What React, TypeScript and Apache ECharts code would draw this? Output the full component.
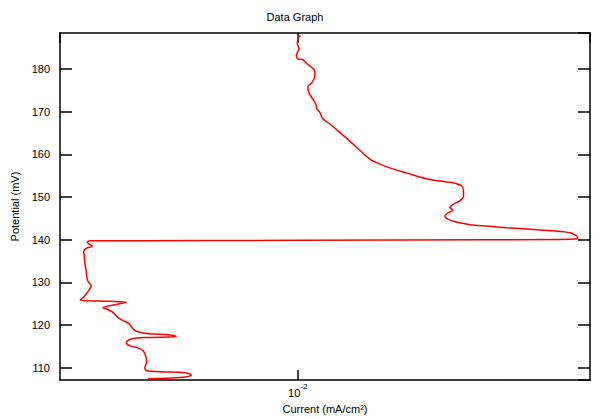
import React, { useEffect, useRef } from 'react';
import * as echarts from 'echarts';

const currentValues: number[] = [
  0.00418, 0.00475, 0.00518, 0.00538, 0.00518, 0.00448, 0.00415, 0.0041, 0.00414, 0.00413,
  0.00407, 0.00394, 0.00376, 0.00368, 0.00379, 0.00413, 0.00475, 0.00492, 0.00475, 0.00415,
  0.00389, 0.0038, 0.00375, 0.00361, 0.00351, 0.00341, 0.00331, 0.00321, 0.00345, 0.00368,
  0.00335, 0.00281, 0.00284, 0.00289, 0.00295, 0.003, 0.00294, 0.00292, 0.00291, 0.00289,
  0.00288, 0.00287, 0.00292, 0.00302, 0.00297, 0.00293, 0.00298, 0.00565, 0.01814, 0.0461,
  0.0509, 0.0512, 0.0489, 0.041, 0.0338, 0.0278, 0.0257, 0.0243, 0.0236, 0.0239,
  0.0247, 0.0243, 0.0247, 0.0257, 0.0263, 0.0263, 0.026, 0.0247, 0.0229, 0.0212,
  0.0189, 0.0171, 0.0159, 0.0154, 0.0144, 0.0136, 0.0128, 0.0123, 0.0119, 0.01155,
  0.01138, 0.01118, 0.01112, 0.01093, 0.01067, 0.01061, 0.01086, 0.01105, 0.01105, 0.01083,
  0.01052, 0.01031, 0.01001, 0.00992, 0.01007, 0.00998, 0.01003, 0.01016,
];

// Potential (mV) for each current value above
const potentialValues: number[] = [
  107.44, 107.56, 107.79, 108.26, 108.84, 109.07, 109.3, 109.88, 111.28, 112.44,
  113.84, 114.65, 115.12, 115.93, 116.74, 117.09, 117.21, 117.33, 117.67, 118.02,
  118.6, 119.42, 120.23, 121.05, 121.74, 122.91, 123.6, 124.07, 124.77, 125.35,
  125.58, 125.81, 126.16, 126.86, 128.02, 129.19, 130.35, 131.51, 132.91, 134.53,
  136.16, 137.33, 138.02, 138.49, 138.95, 139.42, 139.77, 139.81, 139.93, 140.07,
  140.23, 140.58, 141.63, 142.28, 142.84, 143.44, 144.0, 144.6, 145.58, 146.16,
  146.98, 147.56, 148.26, 149.07, 150.12, 151.51, 152.67, 153.37, 153.77, 154.3,
  155.63, 156.86, 158.02, 158.6, 160.88, 163.02, 165.12, 166.51, 167.56, 168.49,
  169.88, 170.58, 171.74, 172.91, 174.53, 175.93, 176.86, 178.49, 179.65, 180.47,
  181.4, 182.21, 182.44, 183.26, 184.77, 186.05, 187.33, 187.91,
];

// Axis ranges and labelled ticks
const xRange: number[] = [0.0025, 0.055];
const yRange: number[] = [107.09, 188.49];
const xLabelledTicks: number[] = [0.01];
const xTickBases: string[] = ['10'];
const xTickExponents: string[] = ['-2'];

const FONT = 'Liberation Sans, Arial, Helvetica, sans-serif';

export default function App() {
  const ref = useRef<HTMLDivElement>(null);

  useEffect(() => {
    document.body.style.margin = '0';
    const chart = echarts.init(ref.current!, null, { renderer: 'svg' });

    const data = currentValues.map((c, i) => [c, potentialValues[i]]);

    const lineStyle = { color: '#000', width: 1.5 };

    const xLabelFormatter = (v: number) => {
      for (let i = 0; i < xLabelledTicks.length; i++) {
        if (Math.abs(Math.log10(v) - Math.log10(xLabelledTicks[i])) < 1e-6) {
          return '{base|' + xTickBases[i] + '}{sup|' + xTickExponents[i] + '}';
        }
      }
      return '';
    };

    chart.setOption({
      animation: false,
      title: {
        text: 'Data Graph',
        left: 290,
        top: 6,
        textAlign: 'center',
        textStyle: { fontSize: 11, fontWeight: 'normal', color: '#000', fontFamily: FONT },
      },
      grid: { left: 60, right: 10, top: 33, bottom: 36 },
      xAxis: [
        {
          type: 'log',
          logBase: 10,
          min: xRange[0],
          max: xRange[1],
          position: 'bottom',
          name: 'Current (mA/cm²)',
          nameLocation: 'middle',
          nameGap: 16,
          nameTextStyle: { fontSize: 11, color: '#000', fontFamily: FONT },
          axisLine: { show: true, lineStyle },
          axisTick: { show: true, inside: true, length: 10, lineStyle },
          minorTick: { show: false },
          splitLine: { show: false },
          axisLabel: {
            margin: 2,
            showMinLabel: false,
            showMaxLabel: false,
            formatter: xLabelFormatter,
            rich: {
              base: { fontSize: 11, color: '#000', fontFamily: FONT, lineHeight: 16, verticalAlign: 'bottom' },
              sup: { fontSize: 8, color: '#000', fontFamily: FONT, lineHeight: 8, verticalAlign: 'top' },
            },
          },
        },
        {
          type: 'log',
          logBase: 10,
          min: xRange[0],
          max: xRange[1],
          position: 'top',
          axisLine: { show: true, lineStyle },
          axisTick: { show: true, inside: true, length: 10, lineStyle },
          minorTick: { show: false },
          splitLine: { show: false },
          axisLabel: { show: false },
        },
      ],
      yAxis: [
        {
          type: 'value',
          min: yRange[0],
          max: yRange[1],
          splitNumber: 8,
          position: 'left',
          name: 'Potential (mV)',
          nameLocation: 'middle',
          nameGap: 38,
          nameTextStyle: { fontSize: 11, color: '#000', fontFamily: FONT },
          axisLine: { show: true, lineStyle },
          axisTick: { show: true, inside: true, length: 12, lineStyle },
          splitLine: { show: false },
          axisLabel: {
            margin: 10,
            showMinLabel: false,
            showMaxLabel: false,
            fontSize: 11,
            color: '#000',
            fontFamily: FONT,
          },
        },
        {
          type: 'value',
          min: yRange[0],
          max: yRange[1],
          splitNumber: 8,
          position: 'right',
          axisLine: { show: true, lineStyle },
          axisTick: { show: true, inside: true, length: 12, lineStyle },
          splitLine: { show: false },
          axisLabel: { show: false },
        },
      ],
      series: [
        {
          type: 'line',
          xAxisIndex: 0,
          yAxisIndex: 0,
          data,
          smooth: 0.3,
          showSymbol: false,
          symbol: 'none',
          lineStyle: { color: '#ff0000', width: 1.5 },
        },
      ],
    });

    return () => chart.dispose();
  }, []);

  return <div ref={ref} style={{ width: 600, height: 419 }} />;
}
